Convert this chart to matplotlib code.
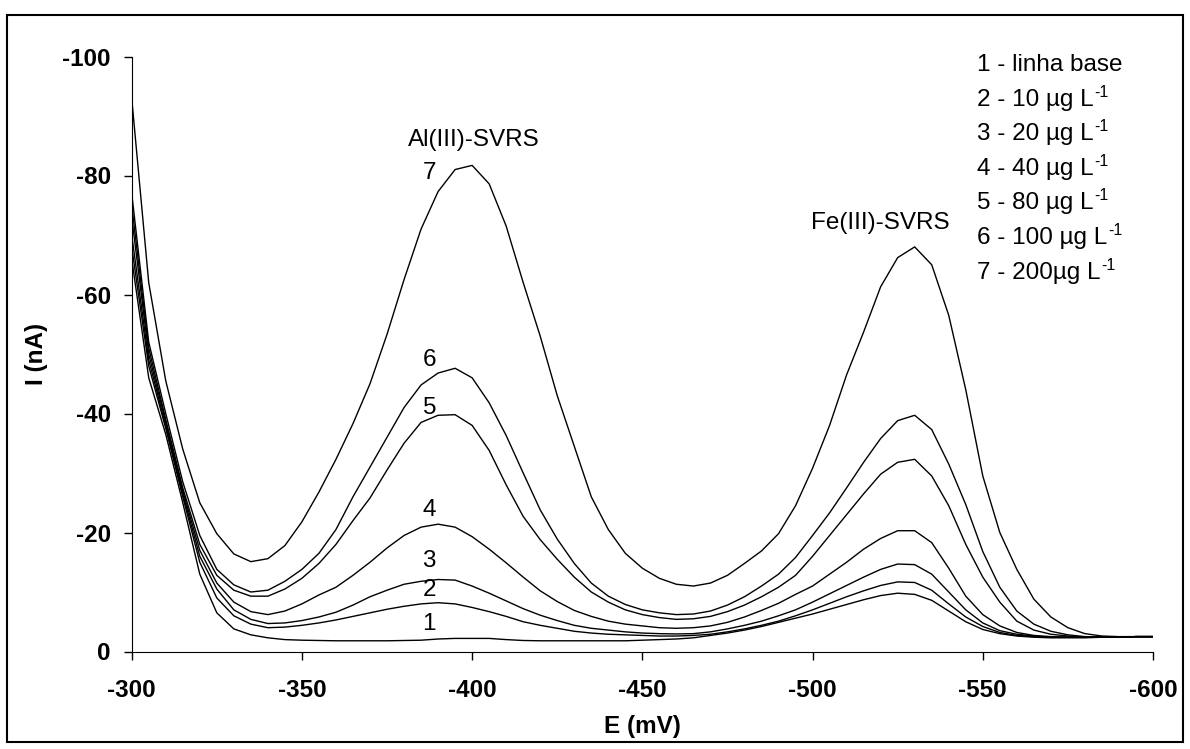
import matplotlib
matplotlib.use('Agg')
import matplotlib.pyplot as plt
from matplotlib.patches import Rectangle

# DATA - potential (mV) and current (nA)
E = [-300, -305, -310, -315, -320, -325, -330, -335, -340, -345,
     -350, -355, -360, -365, -370, -375, -380, -385, -390, -395,
     -400, -405, -410, -415, -420, -425, -430, -435, -440, -445,
     -450, -455, -460, -465, -470, -475, -480, -485, -490, -495,
     -500, -505, -510, -515, -520, -525, -530, -535, -540, -545,
     -550, -555, -560, -565, -570, -575, -580, -585, -590, -595, -600]

c1 = [-66, -46, -36.5, -25, -13, -6.5, -3.8, -2.8, -2.3, -2.0,
      -1.9, -1.85, -1.8, -1.8, -1.8, -1.8, -1.85, -1.9, -2.1, -2.2,
      -2.2, -2.2, -2.0, -1.85, -1.8, -1.8, -1.8, -1.8, -1.8, -1.8,
      -1.9, -2.0, -2.1, -2.3, -2.7, -3.1, -3.6, -4.2, -4.9, -5.6,
      -6.3, -7.1, -7.9, -8.7, -9.4, -9.8, -9.6, -8.6, -6.8, -5.0,
      -3.7, -3.0, -2.6, -2.4, -2.3, -2.3, -2.3, -2.4, -2.4, -2.5, -2.5]
c2 = [-68, -48, -37.5, -26, -15, -9, -6, -4.6, -4.0, -4.1,
      -4.4, -4.8, -5.3, -5.9, -6.5, -7.1, -7.6, -8.0, -8.2, -8.0,
      -7.4, -6.7, -5.9, -5.0, -4.4, -3.9, -3.4, -3.1, -2.9, -2.8,
      -2.7, -2.6, -2.6, -2.7, -2.9, -3.3, -3.8, -4.4, -5.1, -6.0,
      -7.0, -8.1, -9.2, -10.2, -11.1, -11.7, -11.6, -10.3, -8.0, -5.8,
      -4.2, -3.2, -2.7, -2.5, -2.4, -2.4, -2.4, -2.4, -2.4, -2.5, -2.5]
c3 = [-70, -49, -38, -26.5, -16, -10.5, -7, -5.4, -4.7, -4.8,
      -5.2, -5.8, -6.6, -7.8, -9.2, -10.3, -11.3, -11.8, -12.1, -12.0,
      -11.0, -9.8, -8.5, -7.2, -6.1, -5.2, -4.4, -3.9, -3.6, -3.3,
      -3.1, -3.0, -2.95, -3.0, -3.3, -3.8, -4.4, -5.1, -6.0, -7.0,
      -8.3, -9.7, -11.1, -12.5, -13.8, -14.7, -14.6, -13.0, -10.0, -7.0,
      -4.8, -3.5, -2.9, -2.6, -2.4, -2.4, -2.4, -2.4, -2.4, -2.5, -2.5]
c4 = [-73, -50, -38.5, -27, -17, -11.5, -8.3, -6.7, -6.2, -6.8,
      -8.0, -9.5, -10.8, -12.8, -15.0, -17.4, -19.5, -20.9, -21.4, -20.9,
      -19.3, -17.2, -14.9, -12.5, -10.2, -8.4, -6.9, -5.9, -5.1, -4.6,
      -4.3, -4.0, -3.9, -4.0, -4.3, -4.9, -5.8, -6.9, -8.1, -9.6,
      -11.0, -13.0, -15.0, -17.2, -19.0, -20.3, -20.3, -18.3, -14.0, -9.3,
      -6.2, -4.3, -3.2, -2.7, -2.5, -2.4, -2.4, -2.4, -2.4, -2.5, -2.5]
c5 = [-75, -51, -39, -27.5, -18, -12.8, -10.3, -9.3, -9.3, -10.5,
      -12.3, -14.8, -18.0, -22.0, -25.8, -30.5, -35.0, -38.5, -39.7, -39.8,
      -38.0, -33.8, -28.0, -22.7, -18.8, -15.5, -12.5, -10.0, -8.3, -7.0,
      -6.2, -5.7, -5.4, -5.5, -5.9, -6.7, -7.8, -9.2, -10.8, -12.8,
      -16.0, -19.5, -23.0, -26.5, -29.8, -31.8, -32.3, -29.5, -24.5, -18.0,
      -12.5, -8.3, -5.1, -3.6, -2.9, -2.6, -2.4, -2.4, -2.4, -2.5, -2.5]
c6 = [-77, -52, -40, -28.5, -19.5, -13.8, -11.2, -10.0, -10.3, -11.8,
      -13.8, -16.5, -20.5, -26.0, -31.0, -36.0, -41.0, -44.8, -46.8, -47.6,
      -46.0, -41.8, -36.3, -30.0, -23.8, -18.9, -14.8, -11.5, -9.3, -7.9,
      -7.0, -6.5, -6.2, -6.3, -6.8, -7.8, -9.2, -11.0, -13.0, -15.8,
      -19.5, -23.3, -27.5, -31.8, -35.8, -38.8, -39.7, -37.3, -31.5, -24.7,
      -16.8, -10.8, -6.8, -4.6, -3.4, -2.8, -2.5, -2.4, -2.4, -2.5, -2.5]
c7 = [-93, -62, -45.5, -34, -25, -19.8, -16.4, -15.1, -15.6, -17.8,
      -21.8, -26.8, -32.3, -38.3, -45.0, -53.3, -62.5, -71.0, -77.3, -81.0,
      -81.7, -78.6, -71.5, -62.0, -53.0, -43.0, -34.5, -26.0, -20.5, -16.5,
      -14.0, -12.3, -11.3, -11.0, -11.5, -12.8, -14.8, -16.9, -19.8, -24.5,
      -30.8, -38.0, -46.5, -53.7, -61.3, -66.2, -68.0, -65.0, -56.5, -44.0,
      -29.5, -20.0, -13.8, -8.8, -5.8, -4.0, -3.0, -2.6, -2.5, -2.5, -2.5]

curves = [c1, c2, c3, c4, c5, c6, c7]

# legend entries: (text, superscript)
legend_lines = [("1 - linha base", ""),
                ("2 - 10 µg L", "-1"),
                ("3 - 20 µg L", "-1"),
                ("4 - 40 µg L", "-1"),
                ("5 - 80 µg L", "-1"),
                ("6 - 100 µg L", "-1"),
                ("7 - 200µg L", "-1")]

# curve number labels (text, E, I)
labels = [("7", -387.6, -79.4), ("6", -387.6, -48.0), ("5", -387.6, -40.0),
          ("4", -387.4, -22.8), ("3", -387.4, -14.2), ("2", -387.4, -9.4),
          ("1", -387.4, -3.6)]

# STYLE
plt.rcParams['font.family'] = ['Liberation Sans', 'DejaVu Sans']
plt.rcParams['axes.unicode_minus'] = False

W, H = 1190, 749
fig = plt.figure(figsize=(W / 100, H / 100), dpi=100)
ax = fig.add_axes([131.7 / W, 1 - 651.5 / H, (1153 - 131.7) / W, (651.5 - 56.5) / H])

for c in curves:
    ax.plot(E, c, color='black', lw=1.0)

ax.set_xlim(-300, -600)
ax.set_ylim(0, -100)
ax.set_xticks([-300, -350, -400, -450, -500, -550, -600])
ax.set_yticks([0, -20, -40, -60, -80, -100])
ax.spines['top'].set_visible(False)
ax.spines['right'].set_visible(False)
ax.tick_params(axis='both', direction='out', length=6, width=1, labelsize=17.5)
ax.tick_params(axis='x', pad=14)
ax.tick_params(axis='y', pad=9)
for t in ax.get_xticklabels() + ax.get_yticklabels():
    t.set_fontweight('bold')

ax.set_xlabel("E (mV)", fontsize=17.5, fontweight='bold', labelpad=9)
ax.set_ylabel("I (nA)", fontsize=17.5, fontweight='bold', labelpad=10)

# peak annotations
ax.text(-400.6, -85.0, "Al(III)-SVRS", fontsize=17.5, ha='center', va='baseline')
ax.text(-519.8, -71.0, "Fe(III)-SVRS", fontsize=17.5, ha='center', va='baseline')
for txt, ex, iy in labels:
    ax.text(ex, iy, txt, fontsize=17.5, ha='center', va='baseline')

# legend as plain text lines with small superscript
renderer = fig.canvas.get_renderer()
for k, (line, sup) in enumerate(legend_lines):
    yb = 1 - (71 + 34.6 * k) / H
    t = fig.text(977 / W, yb, line, fontsize=17.5, ha='left', va='baseline')
    if sup:
        bb = t.get_window_extent(renderer)
        fig.text(bb.x1 / W + 1 / W, yb + 9 / H, sup, fontsize=11.5, ha='left', va='baseline')

# border around the whole figure
fig.patches.append(Rectangle((7 / W, 1 - 742 / H), (1183 - 7) / W, (742 - 15) / H,
                             transform=fig.transFigure, fill=False, lw=1.5, ec='black'))

fig.savefig('out.png', dpi=100)
